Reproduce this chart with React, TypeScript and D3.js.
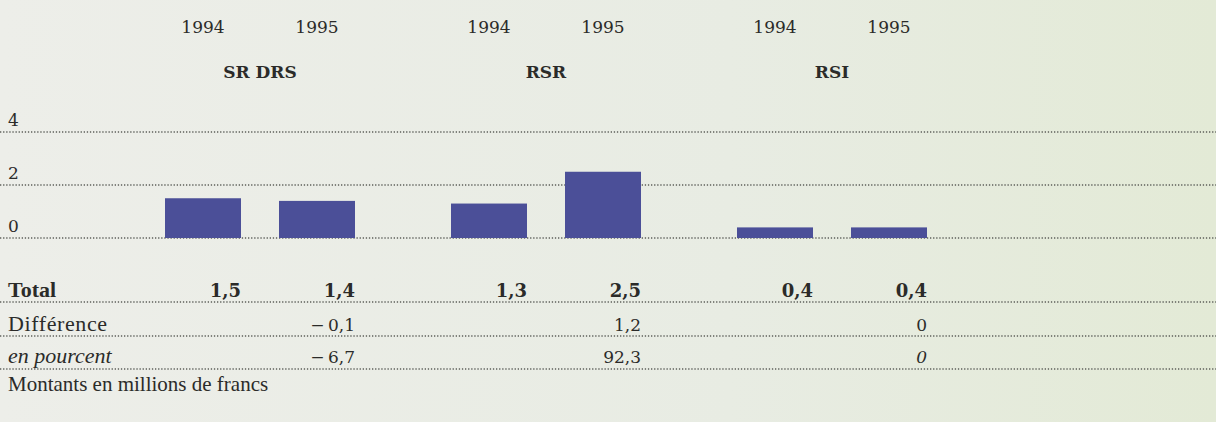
import * as React from "react";
import * as d3 from "d3";

const groups = ["SR DRS", "RSR", "RSI"];
const years = ["1994", "1995"];
const totals = [
  [1.5, 1.4],
  [1.3, 2.5],
  [0.4, 0.4],
];
const totalLabels = [
  ["1,5", "1,4"],
  ["1,3", "2,5"],
  ["0,4", "0,4"],
];
const differences = ["\u2212\u20090,1", "1,2", "0"];
const percents = ["\u2212\u20096,7", "92,3", "0"];
const yTicks = [0, 2, 4];

const width = 1216;
const height = 422;
const serif = "'Liberation Serif', 'Times New Roman', serif";
const numFont = "'DejaVu Serif', serif";
const ink = "#2b2b29";
const barColor = "#4b4f98";

const Dotted = ({ y }: { y: number }) => (
  <line x1={0} x2={width} y1={y} y2={y} stroke="#5d5f5a" strokeWidth={1.3} strokeDasharray="1.3,1.8" />
);

const App = () => {
  const x = d3.scaleBand<string>().domain(groups).range([165, 165 + 286 * 3]).padding(0);
  const xi = d3.scaleBand<string>().domain(years).range([0, 190]).paddingInner(1 / 3).paddingOuter(0);
  const y = d3.scaleLinear().domain([0, 4]).range([238, 132]);

  const rows = { total: 297, diff: 331, pct: 363 };
  const rowLines = [302, 336, 369];

  return (
    <svg width={width} height={height} style={{ position: "absolute", left: 0, top: 0 }} fontFamily={serif}>
      <defs>
        <linearGradient id="paper" x1="0" x2="1" y1="0" y2="0">
          <stop offset="0" stopColor="#edeee9" />
          <stop offset="0.6" stopColor="#e8ece3" />
          <stop offset="1" stopColor="#e3ead6" />
        </linearGradient>
      </defs>
      <rect width={width} height={height} fill="url(#paper)" />

      {yTicks.map((t) => (
        <g key={t}>
          <Dotted y={y(t)} />
          <text x={8} y={y(t) - 6} fontSize={17} fontFamily={numFont} fill={ink}>{t}</text>
        </g>
      ))}

      {groups.map((g, gi) => {
        const gx = x(g) as number;
        const cx = gx + 95;
        const rightEdge = gx + (xi("1995") as number) + xi.bandwidth();
        return (
          <g key={g}>
            {years.map((yr, yi) => {
              const bx = gx + (xi(yr) as number);
              const v = totals[gi][yi];
              return (
                <g key={yr}>
                  <text x={bx + xi.bandwidth() / 2} y={33} textAnchor="middle" fontSize={17} fontFamily={numFont} fill={ink}>{yr}</text>
                  <rect x={bx} y={y(v)} width={xi.bandwidth()} height={y(0) - y(v)} fill={barColor} />
                  <text x={bx + xi.bandwidth()} y={rows.total} textAnchor="end" fontSize={18} fontFamily={numFont} fontWeight="bold" fill={ink}>
                    {totalLabels[gi][yi]}
                  </text>
                </g>
              );
            })}
            <text x={cx} y={78} textAnchor="middle" fontSize={17} fontFamily={numFont} fontWeight="bold" fill={ink}>{g}</text>
            <text x={rightEdge} y={rows.diff} textAnchor="end" fontSize={17} fontFamily={numFont} fill={ink}>
              {differences[gi]}
            </text>
            <text
              x={rightEdge}
              y={rows.pct}
              textAnchor="end"
              fontSize={17}
              fontFamily={numFont}
              fontStyle={gi === 2 ? "italic" : "normal"}
              fill={ink}
            >
              {percents[gi]}
            </text>
          </g>
        );
      })}

      {rowLines.map((ly) => (
        <Dotted key={ly} y={ly} />
      ))}
      <text x={8} y={rows.total} fontSize={22} fontWeight="bold" fill={ink}>Total</text>
      <text x={8} y={rows.diff} fontSize={22} letterSpacing={0.6} fill={ink}>Différence</text>
      <text x={8} y={rows.pct} fontSize={22} fontStyle="italic" fill={ink}>en pourcent</text>
      <text x={8} y={391} fontSize={21} fill={ink}>Montants en millions de francs</text>
    </svg>
  );
};

export default App;
